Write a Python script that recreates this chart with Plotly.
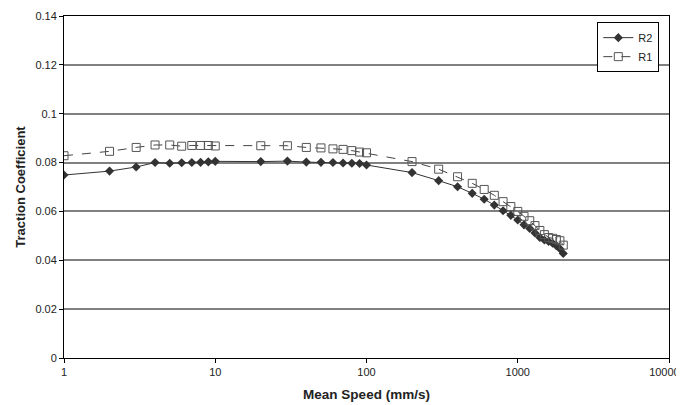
import plotly.graph_objects as go

speed = [1, 2, 3, 4, 5, 6, 7, 8, 9, 10, 20, 30, 40, 50, 60, 70, 80, 90, 100,
         200, 300, 400, 500, 600, 700, 800, 900, 1000, 1100, 1200, 1300, 1400,
         1500, 1600, 1700, 1800, 1900, 2000]

r2 = [0.0749, 0.0765, 0.0782, 0.0800, 0.0797, 0.0799, 0.0800, 0.0801, 0.0803, 0.0805,
      0.0804, 0.0806, 0.0802, 0.0801, 0.0800, 0.0798, 0.0797, 0.0796, 0.0790,
      0.0759, 0.0726, 0.0701, 0.0674, 0.0650, 0.0626, 0.0603, 0.0584, 0.0565,
      0.0545, 0.0530, 0.0512, 0.0493, 0.0483, 0.0477, 0.0470, 0.0460, 0.0447, 0.0428]

r1 = [0.0828, 0.0846, 0.0862, 0.0872, 0.0872, 0.0867, 0.0870, 0.0870, 0.0870, 0.0868,
      0.0869, 0.0869, 0.0862, 0.0860, 0.0856, 0.0854, 0.0849, 0.0843, 0.0840,
      0.0804, 0.0773, 0.0742, 0.0715, 0.0690, 0.0666, 0.0640, 0.0620, 0.0600,
      0.0580, 0.0562, 0.0542, 0.0522, 0.0505, 0.0493, 0.0490, 0.0485, 0.0480, 0.0462]

x_ticks = [1, 10, 100, 1000, 10000]
x_labels = ["1", "10", "100", "1000", "10000"]
y_ticks = [0, 0.02, 0.04, 0.06, 0.08, 0.1, 0.12, 0.14]
y_labels = ["0", "0.02", "0.04", "0.06", "0.08", "0.1", "0.12", "0.14"]

# pad the last label so it stays inside the page edge
x_text = x_labels[:-1] + [x_labels[-1] + "\u00a0\u00a0\u00a0"]

fig = go.Figure()
fig.add_trace(go.Scatter(
    x=speed, y=r2, name="R2", mode="lines+markers",
    line=dict(color="#333333", width=1),
    marker=dict(symbol="diamond", size=7, color="#333333"),
))
fig.add_trace(go.Scatter(
    x=speed, y=r1, name="R1", mode="lines+markers",
    line=dict(color="#444444", width=1, dash="dash"),
    marker=dict(symbol="square-open", size=8, color="#555555", line=dict(width=1)),
))

fig.update_layout(
    width=676, height=397,
    margin=dict(l=56, r=15, t=8, b=47),
    paper_bgcolor="white", plot_bgcolor="white",
    font=dict(family="Liberation Sans, Arial, sans-serif", size=11, color="#222222"),
    showlegend=True,
    legend=dict(x=0.984, y=0.982, xanchor="right", yanchor="top",
                bgcolor="white", bordercolor="#000000", borderwidth=1,
                font=dict(size=11), tracegroupgap=0, itemwidth=30),
)
fig.update_xaxes(
    type="log", range=[0, 4], automargin=False, ticklabeloverflow="allow",
    tickvals=x_ticks, ticktext=x_text,
    showgrid=False, zeroline=False,
    showline=True, linecolor="#000000", linewidth=1, mirror=True,
    ticks="outside", ticklen=4, tickcolor="#000000",
    title=dict(text="<b>Mean Speed (mm/s)</b>", font=dict(size=13.5), standoff=12),
)
fig.update_yaxes(
    range=[0, 0.14], automargin=False, ticklabeloverflow="allow",
    tickvals=y_ticks, ticktext=y_labels,
    showgrid=True, gridcolor="#808080", gridwidth=1.5, zeroline=False,
    showline=True, linecolor="#000000", linewidth=1, mirror=True,
    ticks="outside", ticklen=4, tickcolor="#000000",
    title=dict(text="<b>Traction Coefficient</b>", font=dict(size=13), standoff=6),
)

fig.write_html("out.html")
